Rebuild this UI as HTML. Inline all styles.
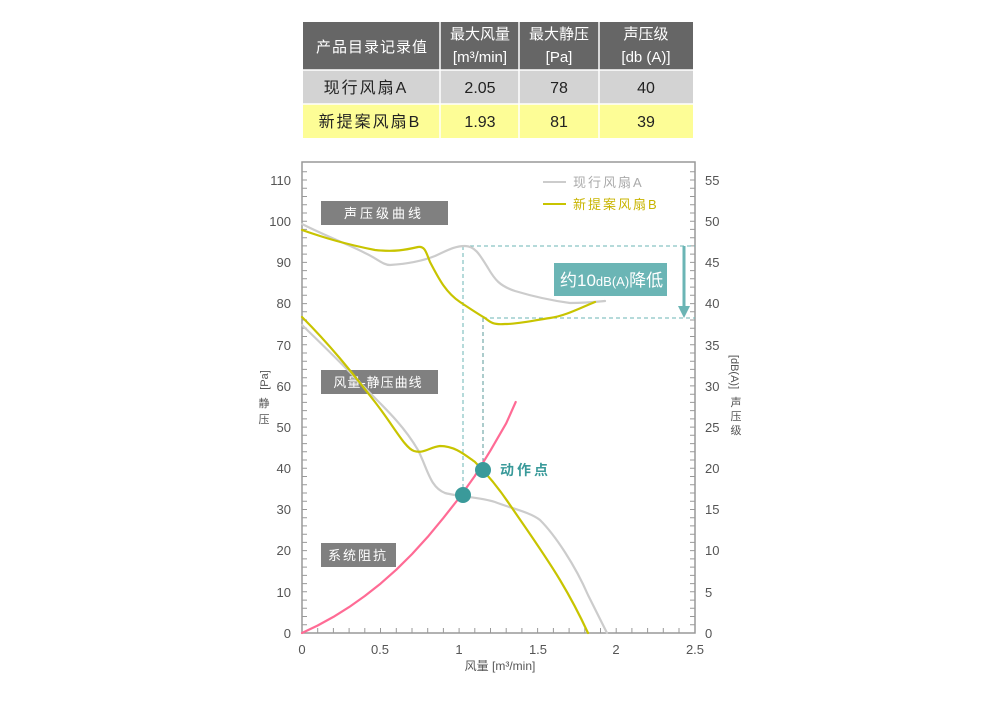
<!DOCTYPE html>
<html><head><meta charset="utf-8"><style>
body{margin:0;background:#fff;width:1000px;height:700px;overflow:hidden;font-family:"Liberation Sans","Noto Sans CJK SC",sans-serif}
</style></head><body>
<svg width="1000" height="700" xmlns="http://www.w3.org/2000/svg" font-family="Liberation Sans, Noto Sans CJK SC, sans-serif">
<!-- table -->
<rect x="303" y="22" width="390" height="48" fill="#666"/>
<rect x="303" y="70" width="390" height="34" fill="#d3d3d3"/>
<rect x="303" y="104" width="390" height="34" fill="#fdfd96"/>
<g stroke="#fff" stroke-width="1.5">
<line x1="440" y1="22" x2="440" y2="138"/><line x1="519" y1="22" x2="519" y2="138"/><line x1="599" y1="22" x2="599" y2="138"/>
<line x1="303" y1="70" x2="693" y2="70"/><line x1="303" y1="104" x2="693" y2="104"/>
</g>
<g fill="#fff" font-size="15" text-anchor="middle">
<text x="372" y="52" letter-spacing="1">产品目录记录值</text>
<text x="480" y="39">最大风量</text><text x="480" y="62">[m³/min]</text>
<text x="559" y="39">最大静压</text><text x="559" y="62">[Pa]</text>
<text x="646" y="39">声压级</text><text x="646" y="62">[db (A)]</text>
</g>
<g fill="#222" font-size="16" text-anchor="middle">
<text x="366" y="93" letter-spacing="2">现行风扇A</text>
<text x="480" y="93">2.05</text><text x="559" y="93">78</text><text x="646" y="93">40</text>
<text x="370" y="127" letter-spacing="2">新提案风扇B</text>
<text x="480" y="127">1.93</text><text x="559" y="127">81</text><text x="646" y="127">39</text>
</g>
<!-- axes -->
<rect x="302" y="162" width="393" height="471" fill="none" stroke="#999" stroke-width="1.5"/>
<g stroke="#999" stroke-width="1">
<path d="M302 633.0h5M302 624.8h5M302 616.5h5M302 608.3h5M302 600.1h5M302 591.8h5M302 583.6h5M302 575.4h5M302 567.1h5M302 558.9h5M302 550.6h5M302 542.4h5M302 534.2h5M302 525.9h5M302 517.7h5M302 509.5h5M302 501.2h5M302 493.0h5M302 484.8h5M302 476.5h5M302 468.3h5M302 460.0h5M302 451.8h5M302 443.6h5M302 435.3h5M302 427.1h5M302 418.9h5M302 410.6h5M302 402.4h5M302 394.2h5M302 385.9h5M302 377.7h5M302 369.4h5M302 361.2h5M302 353.0h5M302 344.7h5M302 336.5h5M302 328.3h5M302 320.0h5M302 311.8h5M302 303.6h5M302 295.3h5M302 287.1h5M302 278.8h5M302 270.6h5M302 262.4h5M302 254.1h5M302 245.9h5M302 237.7h5M302 229.4h5M302 221.2h5M302 213.0h5M302 204.7h5M302 196.5h5M302 188.2h5M302 180.0h5M302 171.8h5"/>
<path d="M695 633.0h-5M695 624.8h-5M695 616.5h-5M695 608.3h-5M695 600.1h-5M695 591.8h-5M695 583.6h-5M695 575.4h-5M695 567.1h-5M695 558.9h-5M695 550.6h-5M695 542.4h-5M695 534.2h-5M695 525.9h-5M695 517.7h-5M695 509.5h-5M695 501.2h-5M695 493.0h-5M695 484.8h-5M695 476.5h-5M695 468.3h-5M695 460.0h-5M695 451.8h-5M695 443.6h-5M695 435.3h-5M695 427.1h-5M695 418.9h-5M695 410.6h-5M695 402.4h-5M695 394.2h-5M695 385.9h-5M695 377.7h-5M695 369.4h-5M695 361.2h-5M695 353.0h-5M695 344.7h-5M695 336.5h-5M695 328.3h-5M695 320.0h-5M695 311.8h-5M695 303.6h-5M695 295.3h-5M695 287.1h-5M695 278.8h-5M695 270.6h-5M695 262.4h-5M695 254.1h-5M695 245.9h-5M695 237.7h-5M695 229.4h-5M695 221.2h-5M695 213.0h-5M695 204.7h-5M695 196.5h-5M695 188.2h-5M695 180.0h-5M695 171.8h-5"/>
<path d="M317.7 633v-5M333.4 633v-5M349.1 633v-5M364.8 633v-5M380.5 633v-5M396.3 633v-5M412 633v-5M427.7 633v-5M443.4 633v-5M459.1 633v-5M474.8 633v-5M490.5 633v-5M506.2 633v-5M521.9 633v-5M537.6 633v-5M553.4 633v-5M569.1 633v-5M584.8 633v-5M600.5 633v-5M616.2 633v-5M631.9 633v-5M647.6 633v-5M663.3 633v-5M679 633v-5"/>
</g>
<g fill="#555" font-size="13" text-anchor="end">
<text x="291" y="638">0</text><text x="291" y="597">10</text><text x="291" y="555">20</text><text x="291" y="514">30</text><text x="291" y="473">40</text><text x="291" y="432">50</text><text x="291" y="391">60</text><text x="291" y="350">70</text><text x="291" y="308">80</text><text x="291" y="267">90</text><text x="291" y="226">100</text><text x="291" y="185">110</text>
</g>
<g fill="#555" font-size="13" text-anchor="start">
<text x="705" y="638">0</text><text x="705" y="597">5</text><text x="705" y="555">10</text><text x="705" y="514">15</text><text x="705" y="473">20</text><text x="705" y="432">25</text><text x="705" y="391">30</text><text x="705" y="350">35</text><text x="705" y="308">40</text><text x="705" y="267">45</text><text x="705" y="226">50</text><text x="705" y="185">55</text>
</g>
<g fill="#555" font-size="13" text-anchor="middle">
<text x="302" y="654">0</text><text x="380" y="654">0.5</text><text x="459" y="654">1</text><text x="538" y="654">1.5</text><text x="616" y="654">2</text><text x="695" y="654">2.5</text>
<text x="500" y="670" font-size="12">风量 [m³/min]</text>
</g>
<text transform="translate(268,380) rotate(-90)" fill="#555" font-size="11" text-anchor="middle">[Pa]</text>
<text x="264" y="407" fill="#555" font-size="11" text-anchor="middle">静</text>
<text x="264" y="423" fill="#555" font-size="11" text-anchor="middle">压</text>
<text transform="translate(731,372) rotate(90)" fill="#555" font-size="11" text-anchor="middle">[dB(A)]</text>
<text x="736" y="406" fill="#555" font-size="11" text-anchor="middle">声</text>
<text x="736" y="420" fill="#555" font-size="11" text-anchor="middle">压</text>
<text x="736" y="434" fill="#555" font-size="11" text-anchor="middle">级</text>
<!-- legend -->
<line x1="543" y1="182" x2="566" y2="182" stroke="#ccc" stroke-width="2"/>
<text x="573" y="187" fill="#aaa" font-size="13" letter-spacing="2">现行风扇A</text>
<line x1="543" y1="204" x2="566" y2="204" stroke="#c8c400" stroke-width="2"/>
<text x="573" y="209" fill="#c8b400" font-size="13" letter-spacing="2">新提案风扇B</text>
<!-- label boxes -->
<rect x="321" y="201" width="127" height="24" fill="#808080"/><text x="384" y="218" fill="#fff" font-size="13" text-anchor="middle" letter-spacing="3">声压级曲线</text>
<rect x="321" y="370" width="117" height="24" fill="#808080"/><text x="378" y="387" fill="#fff" font-size="13" text-anchor="middle" letter-spacing="1">风量-静压曲线</text>
<rect x="321" y="543" width="75" height="24" fill="#808080"/><text x="358" y="560" fill="#fff" font-size="13" text-anchor="middle" letter-spacing="2">系统阻抗</text>
<!-- dashed -->
<g stroke="#6bb5b5" stroke-width="1" stroke-dasharray="4,3" fill="none">
<path d="M463 246H695M463 246V495M483 318H695"/>
</g>
<path d="M483 318V470" stroke="#5a9a9a" stroke-width="1" stroke-dasharray="4,3"/>
<rect x="554" y="263" width="113" height="33" fill="#6bb5b5"/>
<text x="560" y="286" fill="#fff" font-size="17">约10<tspan font-size="13">dB(A)</tspan>降低</text>
<line x1="684" y1="246" x2="684" y2="308" stroke="#6bb5b5" stroke-width="3"/>
<path d="M678 306L690 306L684 318Z" fill="#6bb5b5"/>
<!-- curves -->
<g fill="none" stroke-width="2.2" stroke-linejoin="round" stroke-linecap="round">
<path stroke="#ccc" d="M302 224C330 238 350 245 365 253C378 259 383 265 390 265C405 264 420 262 435 256C448 250 455 246 465 246C475 246 480 255 488 268C495 280 500 286 515 291C535 297 555 301 570 303C585 303 595 302 605 301"/>
<path stroke="#c8c400" d="M302 230C325 238 345 244 375 250C395 252 405 250 418 247C425 246 426 252 430 262C438 277 445 292 460 302C472 310 478 314 485 318C490 322 493 325 505 324C520 324 535 320 550 318C565 316 580 308 595 302"/>
<path stroke="#ccc" d="M302 325C330 352 350 372 370 393C390 413 405 428 418 450C428 470 430 487 445 493C460 497 480 497 495 502C510 508 530 512 540 520C555 535 575 565 588 595C598 615 603 625 607 633"/>
<path stroke="#c8c400" d="M302 317C330 345 350 370 375 402C395 428 405 448 414 451C424 454 430 447 440 446C455 446 465 455 475 462C490 477 500 490 510 505C525 527 545 555 560 580C572 600 582 620 588 633"/>
<path stroke="#ff6b95" d="M302 633L317.7 625.5 333.4 616.9 349.1 607.1 364.8 596 380.6 583.6 396.3 569.7 412 554.1 427.7 536.9 443.4 517.9 459.1 498 474.8 476 490.5 450.4 506.2 423.3 515.7 402"/>
</g>
<circle cx="463" cy="495" r="8" fill="#3a9a9a"/>
<circle cx="483" cy="470" r="8" fill="#3a9a9a"/>
<text x="500" y="475" fill="#3a9a9a" font-size="14" font-weight="bold" letter-spacing="3">动作点</text>
</svg>
</body></html>
